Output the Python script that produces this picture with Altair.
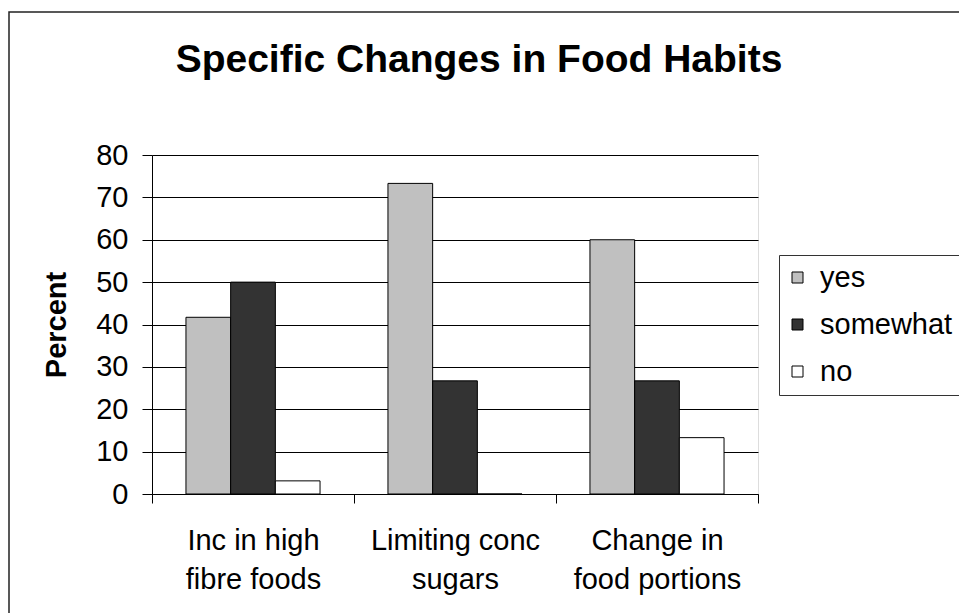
import altair as alt
import pandas as pd

title_text = "Specific Changes in Food Habits"
categories = ["Inc in high|fibre foods", "Limiting conc|sugars", "Change in|food portions"]
responses = ["yes", "somewhat", "no"]
yes_values = [41.7, 73.3, 60.0]
somewhat_values = [50.0, 26.7, 26.7]
no_values = [3.1, 0.0, 13.3]
colors = ["#C0C0C0", "#333333", "#FFFFFF"]
y_ticks = [0, 10, 20, 30, 40, 50, 60, 70, 80]

rows = []
for i, c in enumerate(categories):
    for r, vals in zip(responses, [yes_values, somewhat_values, no_values]):
        rows.append({"category": c, "response": r, "percent": vals[i]})
df = pd.DataFrame(rows)

FONT = "Liberation Sans"

bars = alt.Chart(df).mark_bar(stroke="black", strokeWidth=1).encode(
    x=alt.X("category:N", sort=categories,
            scale=alt.Scale(paddingInner=0, paddingOuter=0),
            axis=alt.Axis(title=None, labelAngle=0, tickBand="extent", tickSize=9,
                          tickColor="black", domainColor="black",
                          labelFontSize=29, labelFont=FONT, labelColor="black",
                          labelPadding=23, labelLineHeight=39,
                          labelExpr="split(datum.label, '|')", grid=False)),
    xOffset=alt.XOffset("response:N", sort=responses,
                        scale=alt.Scale(paddingInner=0, paddingOuter=0.76)),
    y=alt.Y("percent:Q", scale=alt.Scale(domain=[0, 80], nice=False),
            axis=alt.Axis(title="Percent", values=y_ticks, tickSize=10,
                          tickColor="black", domainColor="black",
                          gridColor="black", gridWidth=1, grid=True,
                          labelFontSize=29, labelFont=FONT, labelColor="black",
                          labelPadding=14,
                          titleFontSize=29, titleFont=FONT, titleFontWeight="bold",
                          titleColor="black", titleAngle=270, titleX=-87, titleY=169.5,
                          titleBaseline="alphabetic", titleAlign="center")),
    color=alt.Color("response:N", sort=responses,
                    scale=alt.Scale(domain=responses, range=colors),
                    legend=alt.Legend(title=None, orient="none", legendX=627, legendY=100,
                                      strokeColor="#333333", padding=8,
                                      symbolType="square", symbolSize=121,
                                      symbolOffset=-4,
                                      symbolStrokeColor="black", symbolStrokeWidth=1,
                                      labelFontSize=29, labelFont=FONT, labelColor="black",
                                      labelOffset=8, rowPadding=17)),
)

frame = alt.Chart(alt.Data(values=[{}])).mark_rect(
    fill=None, stroke="#222222", strokeWidth=1.5
).encode(x=alt.value(-143), x2=alt.value(830), y=alt.value(-143), y2=alt.value(480))

title = alt.Chart(alt.Data(values=[{"t": title_text}])).mark_text(
    font=FONT, fontSize=39, fontWeight="bold", color="black",
    align="center", baseline="alphabetic"
).encode(text="t:N", x=alt.value(327), y=alt.value(-83))

chart = alt.layer(frame, bars, title).properties(
    width=606, height=339,
    autosize=alt.AutoSizeParams(type="none"),
    padding={"left": 152, "top": 155, "right": 201, "bottom": 119},
).configure_view(stroke="#808080", strokeWidth=1).configure(background="white")

chart.save("out.html", embed_options={"renderer": "svg", "actions": False})
